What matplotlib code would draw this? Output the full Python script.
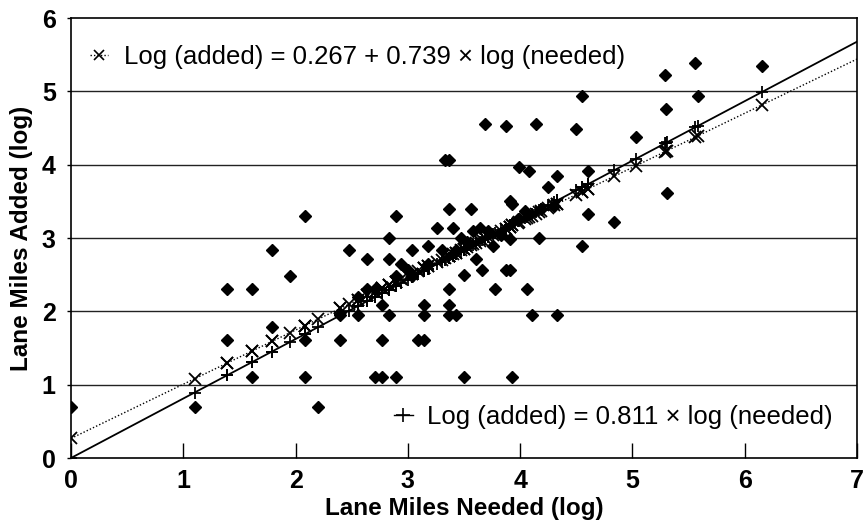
import numpy as np
import matplotlib
matplotlib.use("Agg")
import matplotlib.pyplot as plt
from matplotlib.lines import Line2D

plt.rcParams['font.family'] = ['Liberation Sans', 'DejaVu Sans']

# ---- data (natural logs of lane miles) ----
needed_log = [0.00, 1.10, 1.39, 1.39, 1.61, 1.61, 1.79, 1.79, 1.95, 2.08,
              2.08, 2.08, 2.20, 2.40, 2.40, 2.48, 2.56, 2.64, 2.71, 2.77,
              2.77, 2.83, 2.83, 2.83, 2.77, 2.89, 2.89, 2.89, 3.04, 3.09,
              3.14, 3.14, 3.14, 3.18, 3.26, 3.33, 3.37, 3.37, 3.37, 3.37,
              3.37, 3.43, 3.40, 3.47, 3.50, 3.50, 3.56, 3.61, 3.64, 3.66,
              3.69, 3.76, 3.78, 3.87, 3.87, 3.91, 3.91, 3.93, 3.91, 3.93,
              3.99, 4.08, 4.06, 4.11, 4.14, 4.17, 4.25, 4.33, 4.33, 4.50,
              4.55, 4.55, 4.60, 4.60, 4.84, 5.03, 5.29, 5.30, 5.31, 5.56,
              5.58, 6.15,
              2.56, 2.64, 2.71, 2.94, 3.00, 3.04, 3.18, 3.30, 3.43, 3.53,
              3.58, 3.71, 3.83, 3.98, 4.04, 4.19, 4.30]
added_log = [0.69, 0.69, 2.30, 1.61, 2.30, 1.10, 2.83, 1.79, 2.48, 3.30,
             1.61, 1.10, 0.69, 1.61, 1.95, 2.83, 1.95, 2.71, 1.10, 1.10,
             2.08, 2.71, 3.00, 1.95, 1.61, 3.30, 2.48, 1.10, 2.83, 1.61,
             1.61, 2.08, 1.95, 2.89, 3.14, 4.06, 4.06, 3.40, 2.30, 2.08,
             1.95, 1.95, 3.14, 3.00, 2.50, 1.10, 3.40, 2.71, 3.14, 2.56,
             4.56, 2.89, 2.30, 4.53, 2.56, 2.56, 3.50, 3.47, 2.99, 1.10,
             3.97, 3.91, 2.30, 1.95, 4.56, 3.00, 3.69, 3.85, 1.95, 4.49,
             4.94, 2.89, 3.91, 3.33, 3.22, 4.38, 5.22, 4.76, 3.61, 5.39,
             4.94, 5.34,
             2.20, 2.30, 2.30, 2.64, 2.56, 2.48, 2.64, 2.83, 2.83, 2.94,
             3.09, 3.09, 3.04, 3.26, 3.37, 3.40, 3.43]

# regression coefficients shown in the legend
fit1_intercept = 0.267
fit1_slope = 0.739
fit2_slope = 0.811

label_fit1 = "Log (added) = 0.267 + 0.739 \u00d7 log (needed)"
label_fit2 = "Log (added) = 0.811 \u00d7 log (needed)"

x_limits = (0, 7)
y_limits = (0, 6)
x_ticks = [0, 1, 2, 3, 4, 5, 6, 7]
y_ticks = [0, 1, 2, 3, 4, 5, 6]

# ---- figure ----
fig = plt.figure(figsize=(8.65, 5.29), dpi=100)
ax = fig.add_axes([71/865, 1 - 458/529, (857 - 71)/865, (458 - 18)/529])

x = np.array(needed_log)
y = np.array(added_log)

ax.set_xlim(*x_limits)
ax.set_ylim(*y_limits)

for yt in y_ticks[1:-1]:
    ax.axhline(yt, color='#222222', lw=1.0, zorder=1)

xl = np.array(x_limits, dtype=float)
ax.plot(xl, fit1_intercept + fit1_slope * xl, color='black', lw=1.0,
        ls=(0, (1, 1.5)), zorder=2)
ax.plot(xl, fit2_slope * xl, color='black', lw=1.3, ls='-', zorder=2)

ax.plot(x, y, ls='none', marker='D', ms=6.4, color='black', zorder=3)
ax.plot(x, fit1_intercept + fit1_slope * x, ls='none', marker='x', ms=8,
        mew=1.3, color='black', zorder=4)
ax.plot(x, fit2_slope * x, ls='none', marker='+', ms=9, mew=1.3,
        color='black', zorder=4)

ax.set_xticks(x_ticks)
ax.set_yticks(y_ticks)
ax.tick_params(axis='x', direction='in', length=11, width=1, pad=8,
               labelsize=18)
ax.tick_params(axis='y', direction='out', length=3, width=1, pad=8,
               labelsize=18)
for lab in ax.get_xticklabels() + ax.get_yticklabels():
    lab.set_fontweight('bold')

for s in ax.spines.values():
    s.set_color('black')
    s.set_linewidth(1.2)

ax.set_xlabel("Lane Miles Needed (log)", fontsize=17.5, fontweight='bold',
              labelpad=3)
ax.set_ylabel("Lane Miles Added (log)", fontsize=17.5, fontweight='bold',
              labelpad=6)

h1 = Line2D([], [], color='black', ls=(0, (1, 1.5)), lw=1.0, marker='x',
            ms=7, mew=1.2)
h2 = Line2D([], [], color='black', ls='-', lw=1.0, marker='+', ms=10, mew=1.2)
leg1 = ax.legend([h1], [label_fit1], loc='center left', frameon=False,
                 fontsize=18.5, handlelength=0.7, handletextpad=0.62,
                 bbox_to_anchor=(0.024, 0.911), borderaxespad=0, borderpad=0)
ax.add_artist(leg1)
ax.legend([h2], [label_fit2], loc='center right', frameon=False,
          fontsize=18.5, handlelength=0.75, handletextpad=0.55,
          bbox_to_anchor=(0.969, 0.093), borderaxespad=0, borderpad=0)

fig.savefig("out.png", dpi=100)
